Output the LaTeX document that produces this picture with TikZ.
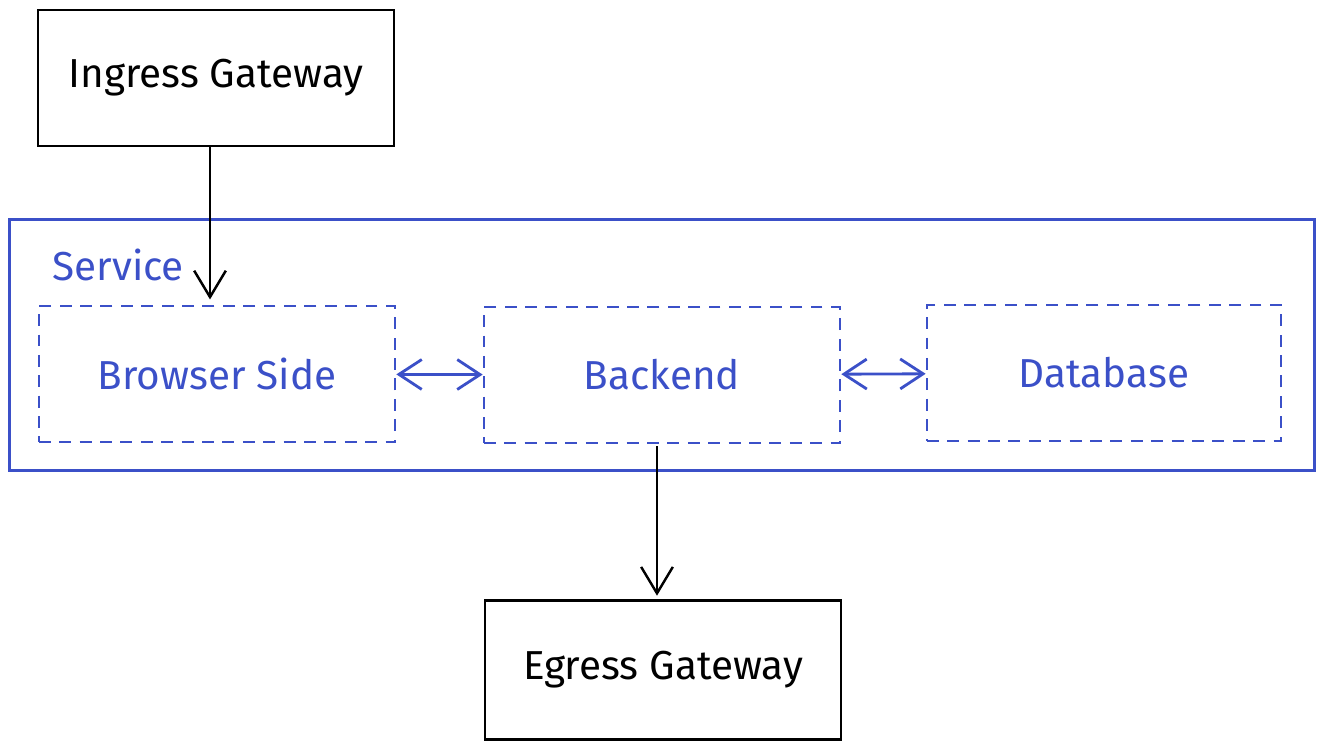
\documentclass[tikz,border=0pt]{standalone}
\usepackage{fontspec}
\setmainfont{Fira Sans}
\usetikzlibrary{arrows.meta}
\definecolor{svcblue}{HTML}{3B50C8}
\begin{document}
\begin{tikzpicture}[x=0.01cm, y=-0.01cm,
    label text/.style={font=\fontsize{11.5}{14}\selectfont},
    gateway/.style={draw, line width=0.7pt, minimum width=3.56cm,
      minimum height=1.36cm, label text},
    part/.style={draw=svcblue, text=svcblue, dash pattern=on 3.4pt off 2.4pt,
      line width=0.7pt, minimum width=3.56cm, minimum height=1.36cm, label text},
    flow/.style={line width=0.7pt, -{Straight Barb[length=7.5pt,width=9pt]}},
    link/.style={draw=svcblue, line width=0.8pt,
      {Straight Barb[length=6.5pt,width=8.5pt]}-{Straight Barb[length=6.5pt,width=8.5pt]}}]
  \useasboundingbox (0, 0) rectangle (1323, 749);
  % gateways
  \node (ingress) [gateway] at (216, 78) {Ingress Gateway};
  \node (egress) [gateway, minimum height=1.39cm] at (663, 670) {Egress Gateway};
  % service container
  \node (service) [draw=svcblue, line width=0.7pt, minimum width=13.04cm,
        minimum height=2.51cm] at (662, 345) {};
  \node (servicelabel) [anchor=west, text=svcblue, label text] at (40, 265) {Service};
  \node (browser) [part] at (217, 374) {Browser Side};
  \node (backend) [part] at (662, 375) {Backend};
  \node (database) [part, minimum width=3.54cm] at (1104, 373) {Database};
  % connectors
  \coordinate (ingressout) at (ingress.south -| 210, 0);
  \coordinate (browserin) at (browser.north -| 210, 0);
  \draw [flow] (ingressout) -- ([yshift=1.5pt]browserin);
  \draw [link] (browser) -- (backend);
  \draw [link] (backend) -- (database);
  \coordinate (backendout) at (backend.south -| 657, 0);
  \coordinate (egressin) at (egress.north -| 657, 0);
  \draw [flow] ([yshift=-0.5pt]backendout) -- ([yshift=1pt]egressin);
\end{tikzpicture}
\end{document}
